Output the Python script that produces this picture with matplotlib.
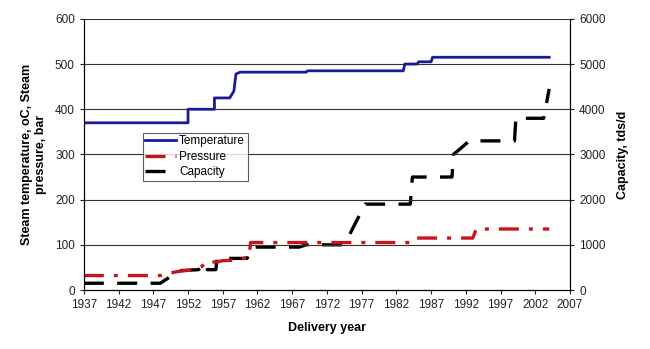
import matplotlib
matplotlib.use("Agg")
import matplotlib.pyplot as plt

plt.rcParams["font.family"] = ["Liberation Sans", "DejaVu Sans"]

# temperature, oC
temp_year = [1937, 1952, 1952, 1955.8, 1955.8, 1958, 1958.6, 1958.9, 1959.5, 1969, 1969.2, 1983, 1983.2, 1985, 1985.2, 1987, 1987.2, 2004]
temp_val = [370, 370, 400, 400, 425, 425, 440, 478, 482, 482, 485, 485, 500, 500, 505, 505, 515, 515]

# pressure, bar
pres_year = [1937, 1948, 1949.5, 1951, 1953, 1954, 1954.5, 1956, 1957, 1959, 1960, 1960.8, 1961, 1984, 1984.5, 1993, 1993.5, 2004]
pres_val = [32, 32, 38, 42, 45, 52, 62, 62, 65, 66, 70, 75, 105, 105, 115, 115, 135, 135]

# capacity, tds/d
cap_year = [1937, 1948, 1949.5, 1951, 1953.5, 1954.5, 1954.8, 1956, 1956.2, 1960.5, 1961, 1961.5, 1968, 1969, 1974, 1975, 1977.5, 1984, 1984.3, 1990, 1990.2, 1991, 1992.5, 1999, 1999.2, 2003.2, 2004]
cap_val = [150, 150, 300, 430, 450, 600, 450, 450, 700, 700, 900, 950, 950, 1000, 1000, 1150, 1900, 1900, 2500, 2500, 3000, 3100, 3300, 3300, 3800, 3800, 4450]

fig = plt.figure(figsize=(6.5, 3.49), dpi=100)
ax = fig.add_axes([0.129, 0.169, 0.748, 0.777])
ax2 = ax.twinx()

ax.set_zorder(ax2.get_zorder() + 1)
ax.patch.set_visible(False)

l1, = ax.plot(temp_year, temp_val, color="#1a1a9c", lw=2.0, label="Temperature")
l2, = ax.plot(pres_year, pres_val, color="#c8141e", lw=2.4, dashes=(6, 3, 1.2, 3), label="Pressure")
l3, = ax2.plot(cap_year, cap_val, color="black", lw=2.4, dashes=(6, 4), label="Capacity")

ax.set_xlim(1937, 2007)
ax.set_ylim(0, 600)
ax2.set_ylim(0, 6000)
ax.set_xticks(range(1937, 2008, 5))
ax.set_yticks(range(0, 601, 100))
ax2.set_yticks(range(0, 6001, 1000))

ax2.yaxis.grid(False)
for y in range(100, 601, 100):
    ax.axhline(y, color="#333333", lw=0.8, zorder=0)

for a in (ax, ax2):
    a.spines["top"].set_visible(False)
    a.tick_params(labelsize=8.5, direction="out", length=3, width=0.8, colors="#222222")
ax.spines["left"].set_linewidth(0.8)
ax2.spines["right"].set_linewidth(0.8)
ax.spines["bottom"].set_linewidth(0.8)

ax.set_xlabel("Delivery year", fontsize=9, fontweight="bold", labelpad=8)
ax.set_ylabel("Steam temperature, oC, Steam\npressure, bar", fontsize=9, fontweight="bold", labelpad=6)
ax2.set_ylabel("Capacity, tds/d", fontsize=9, fontweight="bold", labelpad=8)

leg = ax.legend(handles=[l1, l2, l3], loc="upper left", bbox_to_anchor=(0.121, 0.58),
                fontsize=8.5, frameon=True, fancybox=False, edgecolor="#333333",
                borderpad=0.2, handlelength=2.6, handletextpad=0.3, labelspacing=0.3,
                borderaxespad=0)
leg.get_frame().set_linewidth(0.8)

fig.savefig("out.png", dpi=100)
